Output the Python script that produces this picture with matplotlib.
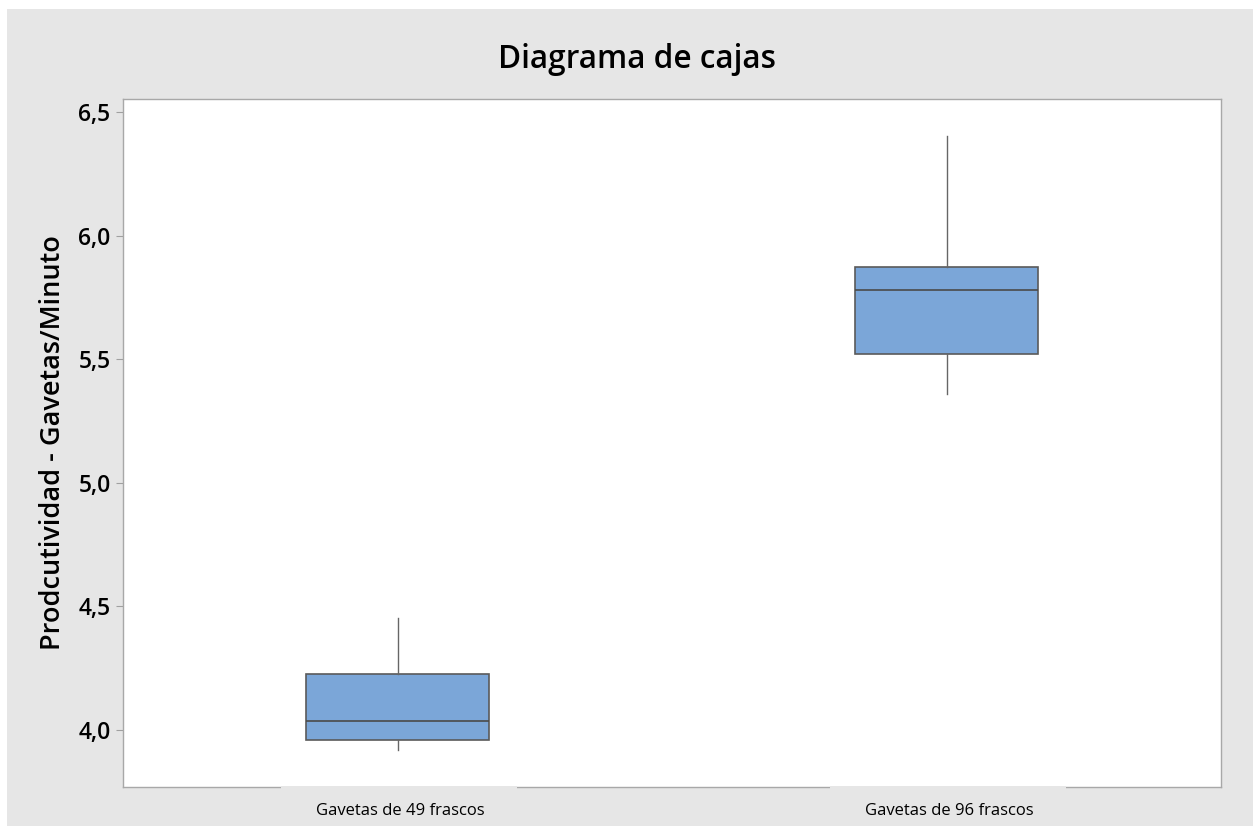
import matplotlib.pyplot as plt
from matplotlib.patches import Rectangle

# datos (min, Q1, mediana, Q3, max)
grupos = ['Gavetas de 49 frascos', 'Gavetas de 96 frascos']
minimos = [3.92, 5.36]
q1 = [3.96, 5.52]
medianas = [4.036, 5.78]
q3 = [4.227, 5.873]
maximos = [4.453, 6.403]
yticks = [4.0, 4.5, 5.0, 5.5, 6.0, 6.5]

bg = '#e6e6e6'
plt.rcParams['font.family'] = ['Open Sans', 'DejaVu Sans']

fig = plt.figure(figsize=(12.53, 8.26), dpi=100, facecolor='white')
fig.patches.append(Rectangle((7/1253, 0), 1 - 7/1253, 1 - 9/826,
                             transform=fig.transFigure, facecolor=bg,
                             edgecolor='none', zorder=-10))
ax = fig.add_axes([123/1253, 1 - 787/826, 1098/1253, 688/826])

stats = []
for i in range(len(grupos)):
    stats.append({'whislo': minimos[i], 'q1': q1[i], 'med': medianas[i],
                  'q3': q3[i], 'whishi': maximos[i], 'fliers': []})

ax.bxp(stats, positions=[1, 2], widths=0.333, patch_artist=True,
       showcaps=False,
       boxprops=dict(facecolor='#7ba6d8', edgecolor='#5a5a5a', linewidth=1.2),
       medianprops=dict(color='#4a4a4a', linewidth=1.2),
       whiskerprops=dict(color='#666666', linewidth=1.0))

ax.set_xlim(0.5, 2.5)
ax.set_ylim(3.769, 6.553)
ax.set_yticks(yticks)
ax.set_yticklabels([('%.1f' % v).replace('.', ',') for v in yticks],
                   fontsize=16.5, fontweight='semibold')
ax.tick_params(axis='y', length=5, color='#a0a0a0', pad=4)
ax.tick_params(axis='x', length=0)
ax.set_xticks([])
for s in ax.spines.values():
    s.set_color('#a8a8a8')
    s.set_linewidth(1.0)

# etiquetas de grupo con fondo gris que tapa el eje
trans = ax.get_xaxis_transform()
for i, g in enumerate(grupos):
    ax.add_patch(Rectangle((i + 1 - 0.213, -45/688), 0.43, 45/688 + 0.001,
                           transform=trans, facecolor=bg, edgecolor='none',
                           clip_on=False, zorder=5))
    ax.text(i + 1.005, -24/688, g, transform=trans, ha='center', va='center',
            fontsize=12, clip_on=False, zorder=6)

ax.set_ylabel('Prodcutividad - Gavetas/Minuto', fontsize=19.5,
              fontweight='semibold', labelpad=8)
fig.suptitle('Diagrama de cajas', fontsize=22.7, fontweight='semibold',
             x=637/1253, y=1 - 59/826, va='center')

plt.savefig('out.png', dpi=100)
